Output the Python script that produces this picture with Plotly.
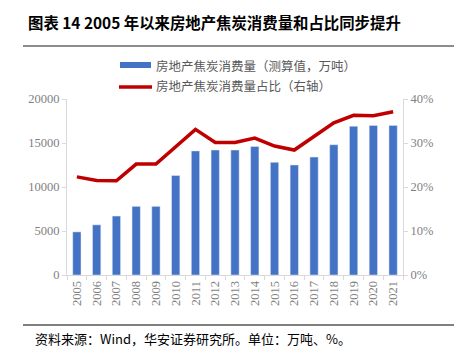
import plotly.graph_objects as go

years = [str(y) for y in range(2005, 2022)]
consumption = [4900, 5700, 6700, 7800, 7800, 11300, 14100, 14200, 14200, 14600,
               12800, 12500, 13400, 14800, 16900, 17000, 17000]
share = [22.3, 21.5, 21.4, 25.2, 25.2, 29.2, 33.1, 30.1, 30.1, 31.1,
         29.3, 28.4, 31.6, 34.6, 36.3, 36.2, 37.1]
left_ticks = [0, 5000, 10000, 15000, 20000]
right_ticks = [0, 10, 20, 30, 40]

BAR = "#4472C4"
LINE = "#C00000"
OFF = 8  # default page body margin
W, H = 462 - OFF, 355 - OFF
CJK = "Noto Sans CJK SC"
SERIF = "Liberation Serif"

fig = go.Figure()
fig.add_trace(go.Bar(x=years, y=consumption, marker_color=BAR, name="房地产焦炭消费量（测算值，万吨）",
                     showlegend=False))
fig.add_trace(go.Scatter(x=years, y=share, mode="lines", yaxis="y2", name="房地产焦炭消费量占比（右轴）",
                         line=dict(color=LINE, width=3.5), showlegend=False))

# plot area in window pixels: x 67..403, y 99..275
ml, mr, mt, mb = 67 - OFF, 462 - 403, 99 - OFF, 355 - 275
PW, PH = W - ml - mr, H - mt - mb
tickfont = dict(family=SERIF, size=12.5, color="#7F7F7F")
fig.update_layout(
    width=W, height=H,
    margin=dict(l=ml, r=mr, t=mt, b=mb),
    paper_bgcolor="white", plot_bgcolor="white",
    bargap=0.58,
    xaxis=dict(type="category", tickangle=-90, showline=True, linecolor="#D9D9D9", linewidth=1,
               ticks="outside", ticklen=4, tickcolor="#D9D9D9", tickson="boundaries",
               tickfont=tickfont, automargin=False),
    yaxis=dict(range=[0, 20000], tickvals=left_ticks, tickformat="d", showgrid=False, zeroline=False,
               showline=True, linecolor="#D9D9D9", ticks="outside", ticklen=4, tickcolor="#D9D9D9",
               tickfont=tickfont, automargin=False),
    yaxis2=dict(range=[0, 40], tickvals=right_ticks, ticktext=[f"{v}%" for v in right_ticks],
                overlaying="y", side="right", showgrid=False, zeroline=False,
                showline=True, linecolor="#D9D9D9", ticks="outside", ticklen=4, tickcolor="#D9D9D9",
                tickfont=tickfont, automargin=False),
)

def px(x):
    return (x - OFF - ml) / PW

def py(y):
    return (H - mb - (y - OFF)) / PH

shapes = [
    dict(type="line", xref="paper", yref="paper", x0=px(23), x1=px(470), y0=py(46), y1=py(46),
         line=dict(color="#8C8C8C", width=2)),
    dict(type="line", xref="paper", yref="paper", x0=px(23), x1=px(470), y0=py(325), y1=py(325),
         line=dict(color="#000000", width=1)),
    # legend markers
    dict(type="rect", xref="paper", yref="paper", x0=px(120), x1=px(151), y0=py(68), y1=py(62),
         fillcolor=BAR, line=dict(width=0)),
    dict(type="line", xref="paper", yref="paper", x0=px(119), x1=px(152), y0=py(87), y1=py(87),
         line=dict(color=LINE, width=3.5)),
]

annotations = [
    dict(text="<b>图表 14 2005 年以来房地产焦炭消费量和占比同步提升</b>", xref="paper", yref="paper",
         x=px(26), y=py(8.5), xanchor="left", yanchor="top", showarrow=False,
         font=dict(family=CJK, size=15.4, color="#000000")),
    dict(text="房地产焦炭消费量（测算值，万吨）", xref="paper", yref="paper",
         x=px(154), y=py(65), xanchor="left", yanchor="middle", showarrow=False,
         font=dict(family=CJK, size=12.5, color="#595959")),
    dict(text="房地产焦炭消费量占比（右轴）", xref="paper", yref="paper",
         x=px(154), y=py(86), xanchor="left", yanchor="middle", showarrow=False,
         font=dict(family=CJK, size=12.5, color="#595959")),
    dict(text="资料来源：Wind，华安证券研究所。单位：万吨、%。", xref="paper", yref="paper",
         x=px(33), y=py(338), xanchor="left", yanchor="middle", showarrow=False,
         font=dict(family=CJK, size=13, color="#000000")),
]

fig.update_layout(shapes=shapes, annotations=annotations)
fig.write_html("out.html")
